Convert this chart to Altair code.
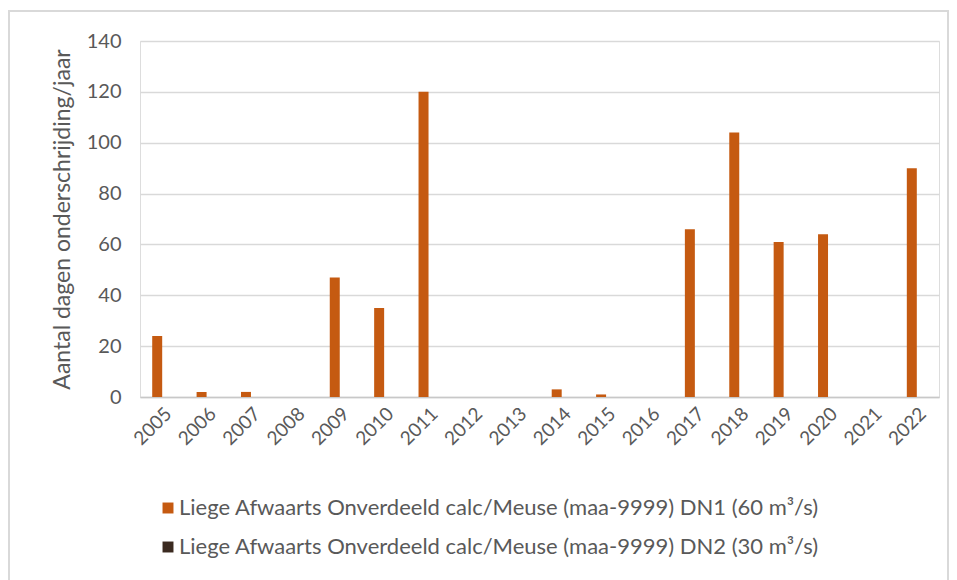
import altair as alt
import pandas as pd

years = [str(y) for y in range(2005, 2023)]
dn1_days = [24, 2, 2, 0, 47, 35, 120, 0, 0, 3, 1, 0, 66, 104, 61, 64, 0, 90]
dn2_days = [0] * 18

series = [
    "Liege Afwaarts Onverdeeld calc/Meuse (maa-9999) DN1  (60 m³/s)",
    "Liege Afwaarts Onverdeeld calc/Meuse (maa-9999) DN2 (30 m³/s)",
]
colors = ["#C55A11", "#3B2A20"]

rows = []
for y, a, b in zip(years, dn1_days, dn2_days):
    rows.append({"jaar": y, "reeks": series[0], "dagen": a})
    rows.append({"jaar": y, "reeks": series[1], "dagen": b})
df = pd.DataFrame(rows)

FONT = "Lato"
GREY = "#595959"

bars = alt.Chart(df).mark_bar().encode(
    x=alt.X(
        "jaar:N",
        sort=years,
        title=None,
        scale=alt.Scale(paddingInner=0.55, paddingOuter=0.275),
        axis=alt.Axis(
            labelAngle=-45,
            labelFontSize=19,
            labelColor=GREY,
            labelPadding=7,
            ticks=False,
            domainColor="#c8c8c8",
            domainWidth=1.5,
            grid=False,
        ),
    ),
    xOffset=alt.XOffset("reeks:N", sort=series),
    y=alt.Y(
        "dagen:Q",
        title="Aantal dagen onderschrijding/jaar",
        scale=alt.Scale(domain=[0, 140], nice=False),
        axis=alt.Axis(
            values=list(range(0, 141, 20)),
            labelFontSize=20,
            labelColor=GREY,
            labelPadding=19,
            ticks=False,
            domain=False,
            gridColor="#d9d9d9",
            gridWidth=1.5,
            titleFontSize=23,
            titleFontWeight="normal",
            titleColor=GREY,
            titlePadding=12,
        ),
    ),
    color=alt.Color(
        "reeks:N",
        sort=series,
        scale=alt.Scale(domain=series, range=colors),
        legend=alt.Legend(
            title=None,
            orient="none",
            legendX=17,
            legendY=456,
            direction="vertical",
            symbolType="square",
            symbolSize=120,
            symbolStrokeWidth=0,
            labelFontSize=22,
            labelColor=GREY,
            labelLimit=900,
            rowPadding=17,
            labelOffset=0,
        ),
    ),
)

frame = alt.Chart(alt.Data(values=[{}])).mark_rect(
    fill=None, stroke="#d9d9d9", strokeWidth=2
).encode(
    x=alt.value(-131),
    x2=alt.value(808),
    y=alt.value(-30),
    y2=alt.value(600),
)

chart = alt.layer(frame, bars).properties(
    width=799,
    height=356,
    padding={"left": 140, "top": 41, "right": 18, "bottom": 183},
    autosize=alt.AutoSizeParams(type="none"),
    background="white",
).configure_view(stroke=None).configure(font=FONT)

chart.save("out.html", embed_options={"renderer": "svg", "actions": False})
